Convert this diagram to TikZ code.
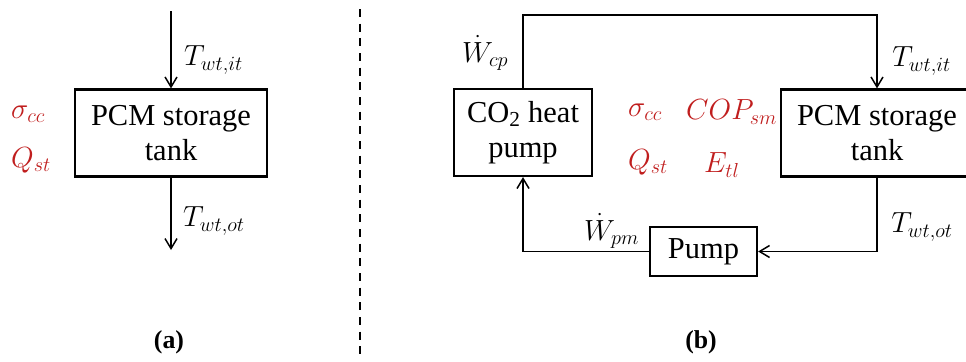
\documentclass[tikz,border=0pt]{standalone}
\usepackage{amsmath}
\usepackage{fontspec}
\setmainfont{Liberation Serif}
\usetikzlibrary{arrows.meta, positioning, calc}
\DeclareMathSizes{24}{24}{19}{15}
\definecolor{myred}{RGB}{192,30,30}
\definecolor{mydark}{RGB}{0,0,0}
\tikzset{
  tankbox/.style={rectangle, draw=mydark, line width=0.65mm,
    minimum width=57.6mm, minimum height=26.1mm, align=center,
    inner sep=0pt, font=\fontsize{26}{30}\selectfont},
  hpbox/.style={tankbox, minimum width=41.4mm},
  pumpbox/.style={tankbox, minimum width=32.1mm, minimum height=14.7mm},
  arrow/.style={-{Straight Barb[length=3mm, width=3.6mm]}, line width=0.45mm, color=mydark},
  divider/.style={line width=0.6mm, dash pattern=on 2.4mm off 2mm, color=mydark},
  varlabel/.style={anchor=west, inner sep=0pt, font=\fontsize{24}{28}\selectfont},
  redlabel/.style={varlabel, color=myred},
  tag/.style={font=\fontsize{22}{26}\selectfont\bfseries}
}

\begin{document}
\begin{tikzpicture}[x=0.3mm, y=-0.3mm]
  \useasboundingbox (0,0) rectangle (966,361);
  \clip (0,0) rectangle (966,361);

  % Panel (a): storage tank alone
  \node[tankbox] (tanka) at (171,133) {PCM storage\\tank};
  \coordinate (ina) at (171,11);
  \coordinate (outa) at (171,250);
  \draw[arrow] (ina) -- (tanka.north);
  \draw[arrow] (tanka.south) -- (outa);
  \node[varlabel] (tina) at (184,60) {$T_{wt,it}$};
  \node[varlabel] (touta) at (183,221) {$T_{wt,ot}$};
  \node[redlabel] (sigmaa) at (11,114) {$\sigma_{cc}$};
  \node[redlabel] (qsta) at (11,160) {$Q_{st}$};
  \node[tag] (taga) at (169,342) {(a)};

  % Divider
  \coordinate (divtop) at (360,9);
  \coordinate (divbot) at (360,361);
  \draw[divider] (divtop) -- (divbot);

  % Panel (b): heat pump loop
  \node[hpbox] (hp) at (523,132.5) {CO\textsubscript{2} heat\\pump};
  \node[tankbox] (tankb) at (877,133) {PCM storage\\tank};
  \node[pumpbox] (pump) at (703.5,251.5) {Pump};
  \coordinate (topr) at (877,15);
  \coordinate (botr) at (877,251.5);
  \coordinate (botl) at (523,251.5);
  \draw[arrow] (hp.north) |- (topr) -- (tankb.north);
  \draw[arrow] (tankb.south) -- (botr) -- (pump.east);
  \draw[arrow] (pump.west) -- (botl) -- (hp.south);

  \node[varlabel] (wcp) at (462,53) {$\dot{W}_{cp}$};
  \node[varlabel] (tinb) at (892,61) {$T_{wt,it}$};
  \node[varlabel] (toutb) at (891,227) {$T_{wt,ot}$};
  \node[varlabel] (wpm) at (584,231) {$\dot{W}_{pm}$};
  \node[redlabel] (sigmab) at (628,112) {$\sigma_{cc}$};
  \node[redlabel] (copb) at (686,112) {$COP_{sm}$};
  \node[redlabel] (qstb) at (628,162) {$Q_{st}$};
  \node[redlabel] (etlb) at (704,165) {$E_{tl}$};
  \node[tag] (tagb) at (701,342) {(b)};
\end{tikzpicture}
\end{document}
